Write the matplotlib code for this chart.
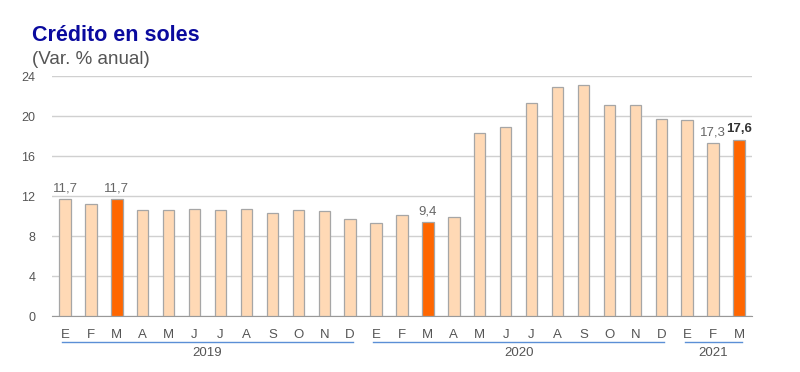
import numpy as np
import matplotlib.pyplot as plt
import matplotlib.transforms as mtransforms

plt.rcParams['font.family'] = ['Liberation Sans', 'DejaVu Sans']

months = ['E', 'F', 'M', 'A', 'M', 'J', 'J', 'A', 'S', 'O', 'N', 'D',
          'E', 'F', 'M', 'A', 'M', 'J', 'J', 'A', 'S', 'O', 'N', 'D',
          'E', 'F', 'M']
values = [11.7, 11.25, 11.7, 10.6, 10.65, 10.7, 10.6, 10.75, 10.35, 10.65, 10.5, 9.75,
          9.3, 10.1, 9.4, 9.9, 18.35, 18.95, 21.35, 22.95, 23.15, 21.15, 21.15, 19.75,
          19.65, 17.3, 17.6]
highlight = [2, 14, 26]
labels = {0: '11,7', 2: '11,7', 14: '9,4', 25: '17,3', 26: '17,6'}
years = ['2019', '2020', '2021']
year_spans = [(0, 11), (12, 23), (24, 26)]

x = np.arange(len(values))
colors = ['#FF6600' if i in highlight else '#FFD9B5' for i in x]

fig = plt.figure(figsize=(8, 3.72), dpi=100)
ax = fig.add_axes([0.065, 0.1505, 0.875, 0.645])

ax.bar(x, values, width=0.44, color=colors, edgecolor='#a6a6a6', linewidth=0.9, zorder=3)

ax.set_ylim(0, 24)
ax.set_xlim(-0.5, 26.5)
ax.set_yticks(range(0, 25, 4))
ax.yaxis.grid(True, color='#d0d0d0', linewidth=1)
ax.set_axisbelow(True)
for s in ['top', 'right', 'left']:
    ax.spines[s].set_visible(False)
ax.spines['bottom'].set_color('#999999')
ax.tick_params(axis='y', length=0, labelsize=9, labelcolor='#555555', pad=12)
ax.tick_params(axis='x', length=0, labelsize=9.5, labelcolor='#555555', pad=9)
ax.set_xticks(x)
ax.set_xticklabels(months)

for i, t in labels.items():
    bold = i == 26
    ax.text(x[i], values[i] + 0.5, t, ha='center', va='bottom', fontsize=9.5,
            color='#333333' if bold else '#666666',
            fontweight='bold' if bold else 'normal')

trans = mtransforms.blended_transform_factory(ax.transData, ax.transAxes)
for yr, (a, b) in zip(years, year_spans):
    ax.plot([a - 0.1, b + 0.1], [-0.108, -0.108], color='#5b8fd6', linewidth=1,
            transform=trans, clip_on=False)
    ax.text((a + b) / 2, -0.128, yr, transform=trans, ha='center', va='top',
            fontsize=9.5, color='#555555')

fig.text(0.04, 0.905, 'Crédito en soles', fontsize=15.5, fontweight='bold', color='#0A0A9E',
         va='center')
fig.text(0.04, 0.84, '(Var. % anual)', fontsize=13.5, color='#555555', va='center')

fig.savefig('out.png', dpi=100)
